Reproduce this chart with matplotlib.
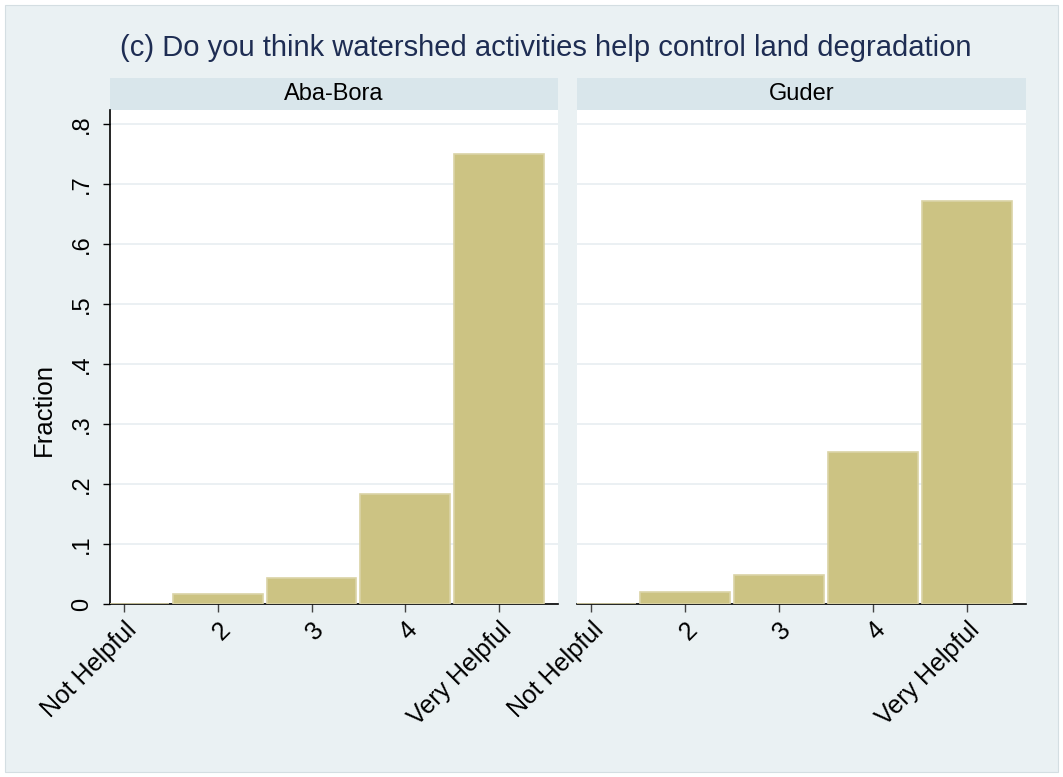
import numpy as np
import matplotlib.pyplot as plt
from matplotlib.patches import Rectangle

plt.rcParams['font.family'] = ['Liberation Sans', 'DejaVu Sans']

categories = ['Not Helpful', '2', '3', '4', 'Very Helpful']
panels = ['Aba-Bora', 'Guder']
aba_bora = [0.0, 0.017, 0.044, 0.183, 0.750]
guder = [0.0, 0.020, 0.048, 0.253, 0.672]
title = '(c) Do you think watershed activities help control land degradation'

W, H = 1063, 777
fig = plt.figure(figsize=(W / 100, H / 100), dpi=100, facecolor='white')
fig.patches.append(Rectangle((5 / W, 5 / H), 1053 / W, 767 / H, transform=fig.transFigure,
                             facecolor='#EAF1F3', edgecolor='#D4DEE2', lw=0.8, zorder=-10))

fig.text(546 / W, 1 - 48 / H, title, ha='center', va='center', fontsize=21, color='#1E2D53')

x = np.arange(1, 6)
lefts = [110, 577]
widths = [448, 449]
bottom = 1 - 604 / H
height = (604 - 110) / H

for i, (name, vals) in enumerate(zip(panels, [aba_bora, guder])):
    ax = fig.add_axes([lefts[i] / W, bottom, widths[i] / W, height], zorder=5)
    ax.set_facecolor('white')
    ax.bar(x, vals, width=0.955, color='#CCC383', edgecolor='#DAD3A6', linewidth=1.2, zorder=3)
    ax.set_xlim(0.85, 5.63)
    ax.set_ylim(0, 0.8233)
    yt = np.arange(0, 0.81, 0.1)
    ax.set_yticks(yt)
    ax.set_yticklabels(['0'] + ['.%d' % k for k in range(1, 9)], rotation=90, va='center', fontsize=17)
    ax.yaxis.grid(True, color='#E8EEF1', lw=1.2, zorder=0)
    ax.set_xticks(x)
    ax.set_xticklabels(categories, rotation=45, ha='right', rotation_mode='anchor', fontsize=18)
    ax.tick_params(axis='x', length=6, width=1, color='#444444', pad=4)
    ax.tick_params(axis='y', length=5, width=1, pad=7)
    for s in ['top', 'right']:
        ax.spines[s].set_visible(False)
    ax.spines['bottom'].set_linewidth(1.2)
    if i == 0:
        ax.spines['left'].set_linewidth(1.2)
        ax.set_ylabel('Fraction', fontsize=18.5)
        ax.yaxis.set_label_coords(-0.12, 0.393)
    else:
        ax.spines['left'].set_visible(False)
        ax.tick_params(axis='y', left=False, labelleft=False)
    # strip header
    fig.patches.append(Rectangle((lefts[i] / W, 1 - 110 / H), widths[i] / W, 32 / H,
                                 transform=fig.transFigure, facecolor='#D9E6EB', edgecolor='none', zorder=-5))
    fig.text((lefts[i] + widths[i] / 2) / W, 1 - 94 / H, name, ha='center', va='center', fontsize=17)

fig.savefig('out.png', dpi=100, facecolor=fig.get_facecolor())
